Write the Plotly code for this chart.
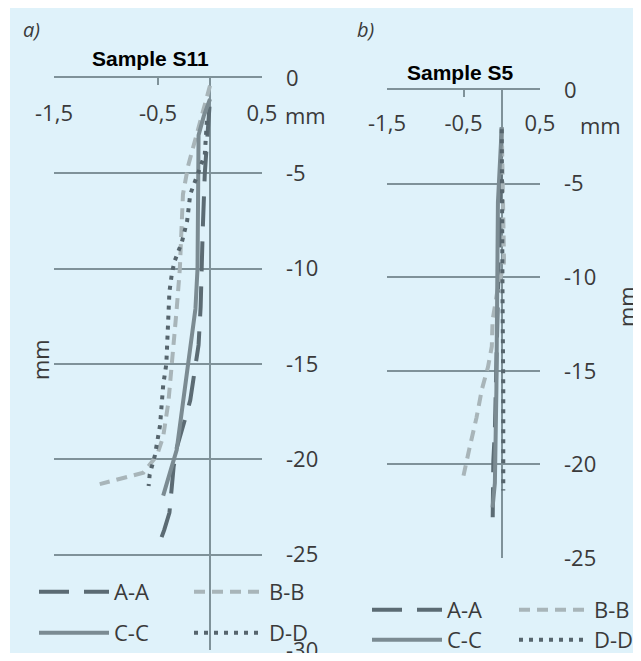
import plotly.graph_objects as go

# ---------------- data ----------------
series_names = ["A-A", "B-B", "C-C", "D-D"]

# Panel a) Sample S11
a_AA_x = [-0.005, -0.03, -0.05, -0.07, -0.08, -0.09, -0.11, -0.14, -0.19, -0.23, -0.32, -0.35, -0.375, -0.39, -0.44, -0.48]
a_AA_y = [-1.5, -3.5, -5, -8, -10, -12, -14, -15.2, -16.9, -17.7, -19.4, -20.4, -21.9, -22.8, -23.7, -24.3]
a_BB_x = [0.0, -0.08, -0.16, -0.21, -0.26, -0.27, -0.29, -0.32, -0.37, -0.40, -0.45, -0.51, -0.64, -0.84, -1.06]
a_BB_y = [-0.4, -2, -3.5, -4.6, -6.1, -7.8, -10, -12.1, -15, -17, -18.8, -19.8, -20.7, -21.0, -21.3]
a_CC_x = [0.0, -0.06, -0.11, -0.12, -0.12, -0.14, -0.21, -0.27, -0.32, -0.385, -0.45]
a_CC_y = [-1.1, -2, -3, -8, -10, -12.1, -15, -17.7, -19.5, -20.7, -21.9]
a_DD_x = [-0.03, -0.05, -0.115, -0.19, -0.22, -0.27, -0.34, -0.365, -0.39, -0.40, -0.41, -0.42, -0.45, -0.48, -0.53, -0.58, -0.59]
a_DD_y = [-2.25, -4, -5, -6.1, -7.5, -8.6, -9.6, -10.2, -11.2, -12.7, -14.4, -15, -16.1, -18.2, -19.8, -20.8, -21.4]

# Panel b) Sample S5
b_AA_x = [0.0, -0.03, -0.06, -0.09, -0.11, -0.12, -0.12]
b_AA_y = [-2, -8, -14, -18.2, -19.8, -22.3, -23.5]
b_BB_x = [0.0, 0.02, 0.03, -0.06, -0.12, -0.13, -0.18, -0.26, -0.33, -0.42, -0.5]
b_BB_y = [-2, -7, -9.2, -10.8, -12.3, -13.7, -14.8, -16, -17.5, -19.1, -20.6]
b_CC_x = [0.0, -0.03, -0.05, -0.07, -0.09, -0.12]
b_CC_y = [-2, -4, -6, -16, -21, -22.3]
b_DD_x = [0.0, 0.0, 0.01, 0.02, 0.02]
b_DD_y = [-2.1, -6, -11, -16, -21.4]

x_tickvals = [-1.5, -0.5, 0.5]
x_ticktext = ["-1,5", "-0,5", "0,5"]
ya_tickvals = [0, -5, -10, -15, -20, -25, -30]
ya_ticktext = ["0", "-5", "-10", "-15", "-20", "-25", "-30"]
yb_tickvals = [0, -5, -10, -15, -20, -25]
yb_ticktext = ["0", "-5", "-10", "-15", "-20", "-25"]

# ---------------- style ----------------
W, H = 633, 645
OFF = 8  # page body margin of the browser
BG = "#dff2fa"
AXC = "#7f9299"
TXT = "#3a3a3a"
FONT = "Open Sans"
styles = {
    "A-A": dict(color="#5b6b73", width=4, dash="30px,15px"),
    "B-B": dict(color="#a8b5b9", width=4, dash="11px,7px"),
    "C-C": dict(color="#7b8b92", width=4, dash="solid"),
    "D-D": dict(color="#56656d", width=4, dash="4px,6px"),
}


def px_x(p):
    return (p - OFF) / W


def px_y(p):
    return 1 - (p - OFF) / H


fig = go.Figure()

panel_a = [(a_AA_x, a_AA_y), (a_BB_x, a_BB_y), (a_CC_x, a_CC_y), (a_DD_x, a_DD_y)]
panel_b = [(b_AA_x, b_AA_y), (b_BB_x, b_BB_y), (b_CC_x, b_CC_y), (b_DD_x, b_DD_y)]
legend_a = ["legend", "legend2", "legend3", "legend4"]
legend_b = ["legend5", "legend6", "legend7", "legend8"]

for name, (xs, ys), lg in zip(series_names, panel_a, legend_a):
    fig.add_trace(go.Scatter(x=xs, y=ys, mode="lines", name=name, line=styles[name],
                             xaxis="x", yaxis="y", legend=lg))
for name, (xs, ys), lg in zip(series_names, panel_b, legend_b):
    fig.add_trace(go.Scatter(x=xs, y=ys, mode="lines", name=name, line=styles[name],
                             xaxis="x2", yaxis="y2", legend=lg))

tickfont = dict(family=FONT, size=22, color=TXT)
xline = dict(side="top", range=[-1.5, 0.5], tickvals=x_tickvals, showticklabels=False,
             showline=True, linecolor=AXC, linewidth=2, ticks="inside", ticklen=7,
             tickwidth=2, tickcolor=AXC, showgrid=False, zeroline=True,
             zerolinecolor=AXC, zerolinewidth=2, fixedrange=True)
xlabels = dict(side="bottom", range=[-1.5, 0.5], tickvals=x_tickvals, ticktext=x_ticktext,
               showline=False, ticks="", showgrid=False, zeroline=False, anchor="free",
               tickfont=tickfont, fixedrange=True)
ycommon = dict(side="right", showline=False, ticks="", showgrid=True, gridcolor=AXC,
               gridwidth=2, zeroline=False, ticklabelstandoff=23, ticklabeloverflow="allow",
               tickfont=tickfont, fixedrange=True)

leg_common = dict(orientation="h", xanchor="left", yanchor="middle", bgcolor="rgba(0,0,0,0)",
                  font=dict(family=FONT, size=22, color=TXT), itemwidth=70)

fig.update_layout(
    width=W, height=H, margin=dict(l=0, r=0, t=0, b=0, autoexpand=False),
    paper_bgcolor=BG, plot_bgcolor="rgba(0,0,0,0)",
    xaxis=dict(domain=[px_x(54), px_x(262)], anchor="y", **xline),
    yaxis=dict(domain=[px_y(650), px_y(78)], anchor="x", range=[-30, 0],
               tickvals=ya_tickvals, ticktext=ya_ticktext, **ycommon),
    xaxis3=dict(domain=[px_x(54), px_x(262)], overlaying="x", position=px_y(98), **xlabels),
    xaxis2=dict(domain=[px_x(387), px_x(540)], anchor="y2", **xline),
    yaxis2=dict(domain=[px_y(558), px_y(90)], anchor="x2", range=[-25, 0],
                tickvals=yb_tickvals, ticktext=yb_ticktext, **ycommon),
    xaxis4=dict(domain=[px_x(387), px_x(540)], overlaying="x2", position=px_y(108), **xlabels),
    legend=dict(x=px_x(34), y=px_y(592), **leg_common),
    legend2=dict(x=px_x(189), y=px_y(592), **leg_common),
    legend3=dict(x=px_x(34), y=px_y(633), **leg_common),
    legend4=dict(x=px_x(189), y=px_y(633), **leg_common),
    legend5=dict(x=px_x(367), y=px_y(610), **leg_common),
    legend6=dict(x=px_x(514), y=px_y(610), **leg_common),
    legend7=dict(x=px_x(367), y=px_y(640), **leg_common),
    legend8=dict(x=px_x(514), y=px_y(640), **leg_common),
    shapes=[dict(type="rect", xref="paper", yref="paper", x0=0, x1=px_x(10), y0=0, y1=1,
                 fillcolor="white", line=dict(width=0), layer="below")],
)

# invisible helper traces so the label axes are drawn
fig.add_trace(go.Scatter(x=x_tickvals, y=[None] * 3, xaxis="x3", yaxis="y", showlegend=False,
                         hoverinfo="skip"))
fig.add_trace(go.Scatter(x=x_tickvals, y=[None] * 3, xaxis="x4", yaxis="y2", showlegend=False,
                         hoverinfo="skip"))

ann = [
    dict(text="<i>a)</i>", x=px_x(21), y=px_y(29), xanchor="left", font=dict(family=FONT, size=20, color=TXT)),
    dict(text="<i>b)</i>", x=px_x(355), y=px_y(29), xanchor="left", font=dict(family=FONT, size=20, color=TXT)),
    dict(text="<b>Sample S11</b>", x=px_x(150), y=px_y(58), xanchor="center", font=dict(family="Liberation Sans", size=21, color="black")),
    dict(text="<b>Sample S5</b>", x=px_x(460), y=px_y(72), xanchor="center", font=dict(family="Liberation Sans", size=21, color="black")),
    dict(text="mm", x=px_x(305), y=px_y(115), xanchor="center", font=tickfont),
    dict(text="mm", x=px_x(600), y=px_y(125), xanchor="center", font=tickfont),
    dict(text="mm", x=px_x(40), y=px_y(360), xanchor="center", textangle=-90, font=tickfont),
    dict(text="mm", x=px_x(626), y=px_y(307), xanchor="center", textangle=-90, font=tickfont),
]
for a in ann:
    a.update(xref="paper", yref="paper", yanchor="middle", showarrow=False)
fig.update_layout(annotations=ann)

fig.write_html("out.html")
